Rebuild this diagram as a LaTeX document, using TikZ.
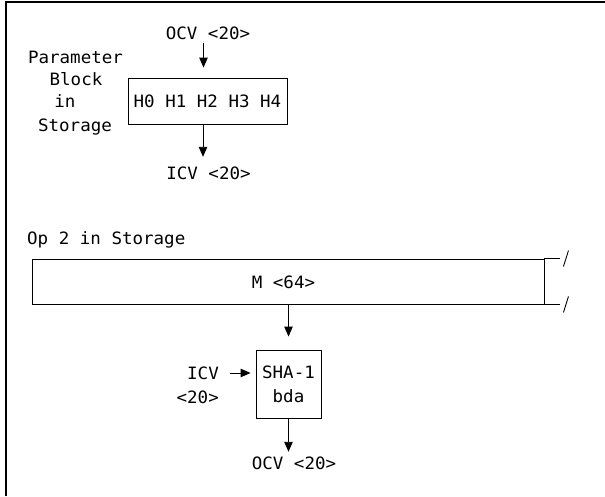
\documentclass[tikz,border=0pt]{standalone}
\usepackage{fontspec}
\setmonofont{DejaVu Sans Mono}[FakeStretch=1.03]
\usetikzlibrary{arrows.meta,calc}
\begin{document}
\begin{tikzpicture}[x=1pt,y=-1pt,
  every node/.style={font=\ttfamily\fontsize{17}{24}\selectfont, inner sep=0pt},
  lbl/.style={text height=12pt, text depth=0pt},
  boxline/.style={line width=0.9pt},
  arr/.style={line width=0.9pt,-{Triangle[length=10pt,width=8.5pt]}},
]
\useasboundingbox (0,0) rectangle (605,496);
\draw[line width=1.8pt] (6,496) -- (6,2) -- (605,2);

% upper part
\node[lbl] (ocvA) at (208,33) {OCV <20>};
\node[draw,boxline,lbl,minimum width=159pt,minimum height=46pt] (hbox) at (207.5,101) {H0 H1 H2 H3 H4};
\node[lbl] (icvA) at (208.5,173) {ICV <20>};
\node[lbl] (p1) at (75.5,57) {Parameter};
\node[lbl] (p2) at (76,79) {Block};
\node[lbl] (p3) at (65,101) {in};
\node[lbl] (p4) at (75,125) {Storage};
\draw[arr,shorten <=4pt,shorten >=10pt] ([xshift=-4.5pt]ocvA.south) -- ([xshift=-4.5pt]ocvA.south |- hbox.north);
\draw[arr,shorten >=10pt] ([xshift=-4.5pt]hbox.south) -- ([xshift=-4.5pt]hbox.south |- icvA.north);

% lower part
\node[lbl,anchor=west] (op) at (27,238) {Op 2 in Storage};
\node[draw,boxline,minimum width=512pt,minimum height=45pt] (mbox) at (288,281.5) {};
\node[lbl] (mlab) at (283.5,282) {M <64>};
\draw[boxline] (mbox.north east) -- ++(16,0);
\draw[boxline] (mbox.south east) -- ++(16,0);
\draw[boxline] ($(mbox.north east)+(24,-8)$) -- ++(-5,16);
\draw[boxline] ($(mbox.south east)+(24,-8)$) -- ++(-5,16);

\node[draw,boxline,minimum width=65pt,minimum height=68pt,align=center] (sha) at (288.5,384) {SHA-1\\bda};
\node[lbl,anchor=east] (icvB) at (219,373) {ICV};
\node[lbl,anchor=east] (icvB2) at (219,397) {<20>};
\node[lbl] (ocvB) at (294,463) {OCV <20>};

\draw[arr,shorten >=13pt] (mbox.south -| sha.north) -- (sha.north);
\draw[arr,shorten <=11pt,shorten >=5pt] (icvB.east) -- (icvB.east -| sha.west);
\draw[arr,shorten >=5pt] (sha.south) -- (sha.south |- ocvB.north);
\end{tikzpicture}
\end{document}
